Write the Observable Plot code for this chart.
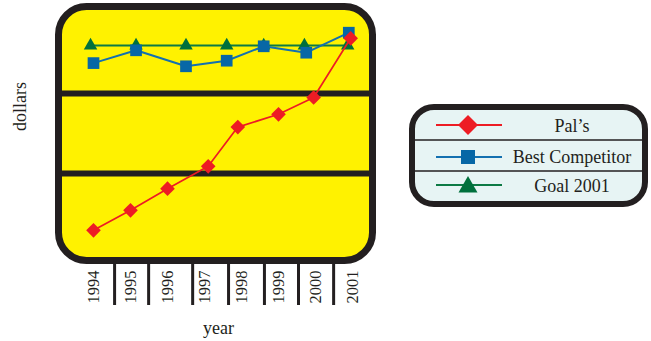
<!DOCTYPE html>
<html>
<head>
<meta charset="utf-8">
<script src="https://cdn.jsdelivr.net/npm/d3@7"></script>
<script src="https://cdn.jsdelivr.net/npm/@observablehq/plot@0.6"></script>
<style>
  html, body { margin: 0; padding: 0; background: #fff; }
  #wrap { position: relative; width: 651px; height: 341px; }
  #legend { position: absolute; left: 405px; top: 100px; }
</style>
</head>
<body>
<div id="wrap"><div id="chart"></div><div id="legend"></div></div>
<script>
// ---- data (y in arbitrary "dollars" units) ----
const years = [1994, 1995, 1996, 1997, 1998, 1999, 2000, 2001];
const palsX = [1994, 1995, 1996, 1997.1, 1997.9, 1999, 1999.95, 2000.95];
const palsY = [0.29, 0.54, 0.81, 1.09, 1.58, 1.74, 1.95, 2.69];
const compX = [1994, 1995.15, 1996.5, 1997.6, 1998.6, 1999.75, 2000.9];
const compY = [2.38, 2.54, 2.34, 2.41, 2.59, 2.51, 2.76];
const goalX = [1993.92, 1995.15, 1996.5, 1997.6, 1998.6, 1999.7, 2000.87];
const goalY = [2.6, 2.6, 2.6, 2.6, 2.6, 2.6, 2.6];
const separators = [1994.57, 1995.49, 1996.68, 1997.65, 1998.62, 1999.54, 2000.49];
const bands = [1, 2];
const seriesNames = ["Pal\u2019s", "Best Competitor", "Goal 2001"];
const seriesColors = ["#ed1c24", "#0767a6", "#00703c"];
const lineColors = ["#ed1c24", "#1470b0", "#0d7a45"];

const pals = palsX.map((x, i) => ({x, y: palsY[i]}));
const comp = compX.map((x, i) => ({x, y: compY[i]}));
const goal = goalX.map((x, i) => ({x, y: goalY[i]}));

const ink = "#231f20";
const yellow = "#fff200";
const serif = "Liberation Serif, DejaVu Serif, serif";

const chart = Plot.plot({
  width: 651,
  height: 341,
  marginLeft: 58,
  marginRight: 279,
  marginTop: 6,
  marginBottom: 81,
  style: {fontFamily: serif, color: ink, background: "transparent", overflow: "visible"},
  x: {type: "linear", domain: [1994, 2001], range: [93, 352]},
  y: {domain: [0, 3], range: [253, 13], axis: null},
  marks: [
    Plot.frame({fill: yellow, stroke: "none", rx: 28, ry: 28}),
    Plot.ruleY(bands, {stroke: ink, strokeWidth: 6}),
    Plot.frame({stroke: ink, strokeWidth: 7, rx: 28, ry: 28}),
    Plot.line(goal, {x: "x", y: "y", stroke: lineColors[2], strokeWidth: 2}),
    Plot.dot(goal, {x: "x", y: "y", symbol: "triangle", r: 5, fill: seriesColors[2], stroke: "none"}),
    Plot.line(comp, {x: "x", y: "y", stroke: lineColors[1], strokeWidth: 2}),
    Plot.dot(comp, {x: "x", y: "y", symbol: "square", r: 6.6, fill: seriesColors[1], stroke: "none"}),
    Plot.line(pals, {x: "x", y: "y", stroke: lineColors[0], strokeWidth: 1.7}),
    Plot.dot(pals, {x: "x", y: "y", symbol: "diamond2", r: 6.6, fill: seriesColors[0], stroke: "none"}),
    Plot.axisX({ticks: separators, tickSize: 45, tickFormat: () => "", strokeWidth: 3, stroke: ink, label: null}),
    Plot.axisX({ticks: years, tickSize: 0, tickPadding: 10, tickRotate: -90, tickFormat: d => String(d),
                fontSize: 16.5, fontFamily: serif, fill: ink, label: null}),
    Plot.text(["year"], {frameAnchor: "bottom", dx: 3, dy: 73, fontSize: 18, fontFamily: serif, fill: ink}),
    Plot.text(["dollars"], {frameAnchor: "left", rotate: -90, textAnchor: "middle", dx: -38, dy: -27, fontSize: 18, fontFamily: serif, fill: ink})
  ]
});
document.getElementById("chart").appendChild(chart);

// ---- legend ----
const lg = d3.select("#legend").append("svg")
  .attr("width", 246).attr("height", 112)
  .style("font-family", serif);
lg.append("rect").attr("x", 7).attr("y", 7).attr("width", 233).attr("height", 97)
  .attr("rx", 22).attr("fill", "#e7f4f4").attr("stroke", ink).attr("stroke-width", 6);
[40, 71].forEach(y => lg.append("line").attr("x1", 10).attr("x2", 237)
  .attr("y1", y).attr("y2", y).attr("stroke", ink).attr("stroke-width", 1.6));
const rowsY = [25, 57, 85];
const symbols = [
  d3.symbol(d3.symbolDiamond2, 255),
  d3.symbol(d3.symbolSquare, 196),
  d3.symbol(d3.symbolTriangle, 156)
];
const symDy = [0, 0, 2];
const textY = [32, 63, 92];
seriesNames.forEach((name, i) => {
  lg.append("line").attr("x1", 31).attr("x2", 97).attr("y1", rowsY[i]).attr("y2", rowsY[i])
    .attr("stroke", lineColors[i]).attr("stroke-width", 2);
  lg.append("path").attr("d", symbols[i]()).attr("fill", seriesColors[i])
    .attr("transform", `translate(63,${rowsY[i] + symDy[i]})`);
  lg.append("text").attr("x", 167).attr("y", textY[i]).attr("text-anchor", "middle")
    .attr("font-size", 18).attr("fill", ink).text(name);
});
</script>
</body>
</html>
